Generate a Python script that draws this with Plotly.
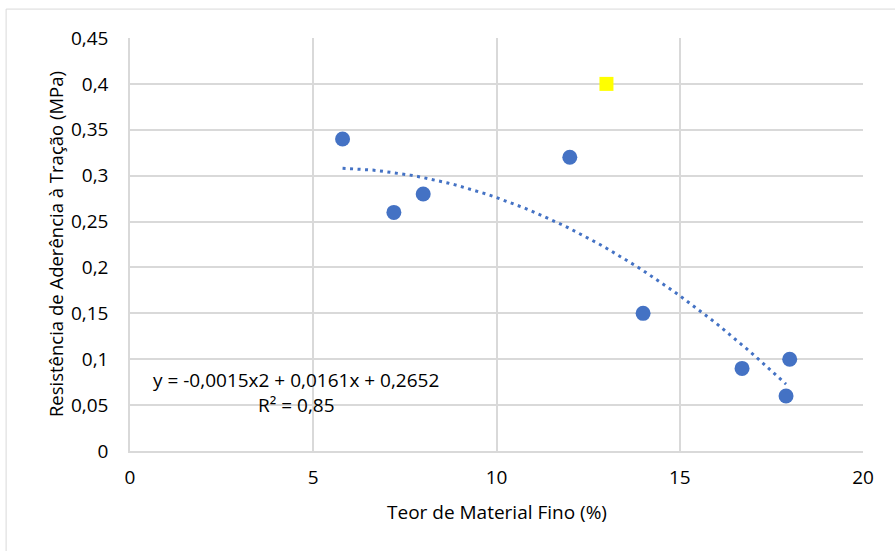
import numpy as np
import plotly.graph_objects as go

teor_fino = [5.8, 7.2, 8.0, 12.0, 14.0, 16.7, 17.9, 18.0]
resistencia = [0.34, 0.26, 0.28, 0.32, 0.15, 0.09, 0.06, 0.10]
destaque_x = [13.0]
destaque_y = [0.40]
coef = [-0.0015, 0.0161, 0.2652]  # polynomial trendline shown on chart
trend_range = [5.8, 17.9]
x_ticks = [0, 5, 10, 15, 20]
y_ticks = [0, 0.05, 0.1, 0.15, 0.2, 0.25, 0.3, 0.35, 0.4, 0.45]

xt = np.linspace(trend_range[0], trend_range[1], 60)
yt = np.polyval(coef, xt)

font = "Open Sans, Noto Sans, sans-serif"
fig = go.Figure()
fig.add_trace(go.Scatter(x=xt, y=yt, mode="lines",
                         line=dict(color="#4472C4", width=3, dash="3px,4.5px"),
                         hoverinfo="skip", showlegend=False))
fig.add_trace(go.Scatter(x=teor_fino, y=resistencia, mode="markers",
                         marker=dict(color="#4472C4", size=15, line=dict(width=0)),
                         showlegend=False))
fig.add_trace(go.Scatter(x=destaque_x, y=destaque_y, mode="markers",
                         marker=dict(color="#FFFF00", size=14, symbol="square", line=dict(width=0)),
                         showlegend=False))

fig.add_annotation(x=4.53, y=0.0774, xref="x", yref="y", showarrow=False,
                   text="y = -0,0015x2 + 0,0161x + 0,2652", font=dict(size=19, color="#000", family=font))
fig.add_annotation(x=4.53, y=0.050, xref="x", yref="y", showarrow=False,
                   text="R² = 0,85", font=dict(size=19, color="#000", family=font))
# axis titles
fig.add_annotation(x=-0.1023, y=0.501, xref="paper", yref="paper", showarrow=False,
                   textangle=-90, xanchor="center", yanchor="middle",
                   text="Resistência de Aderência à Tração (MPa)", font=dict(size=18.5, color="#000", family=font))
fig.add_annotation(x=0.5007, y=-0.148, xref="paper", yref="paper", showarrow=False,
                   xanchor="center", yanchor="middle",
                   text="Teor de Material Fino (%)", font=dict(size=19, color="#000", family=font))

fig.update_layout(
    width=895, height=551,
    margin=dict(l=130, r=32, t=38, b=100, autoexpand=False),
    paper_bgcolor="white", plot_bgcolor="white",
    separators=",.",
    font=dict(family=font, color="#000", size=19),
    xaxis=dict(range=[0, 20], tickvals=x_ticks, showgrid=True, gridcolor="#d9d9d9", gridwidth=1.5,
               zeroline=False, showline=True, linecolor="#d9d9d9", linewidth=1.5,
               ticks="", ticklabelstandoff=8, tickfont=dict(size=19), automargin=False),
    yaxis=dict(range=[0, 0.45], tickvals=y_ticks, showgrid=True, gridcolor="#d9d9d9", gridwidth=1.5,
               zeroline=False, showline=True, linecolor="#d9d9d9", linewidth=1.5,
               ticks="", ticklabelstandoff=16, tickfont=dict(size=19), automargin=False),
)
fig.add_shape(type="rect", xref="paper", yref="paper", x0=-0.169, x1=1.06, y0=-0.3, y1=1.07,
              line=dict(color="#d9d9d9", width=1), layer="below")
fig.write_html("out.html", config={"displayModeBar": False},
               post_script="document.body.style.margin='0';document.body.style.padding='0';")
